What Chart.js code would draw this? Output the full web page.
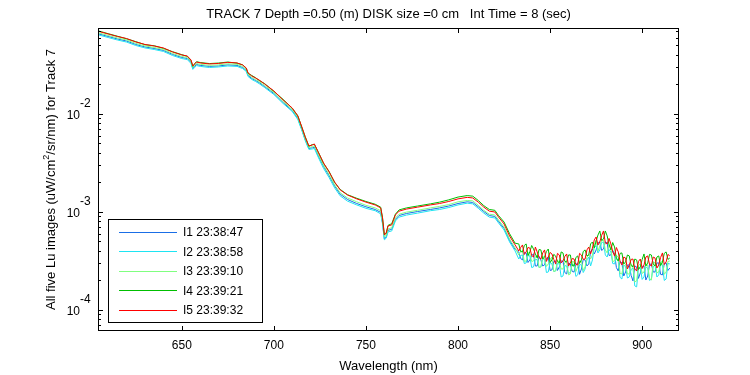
<!DOCTYPE html>
<html>
<head>
<meta charset="utf-8">
<script src="https://cdn.jsdelivr.net/npm/chart.js@4.4.0/dist/chart.umd.min.js"></script>
<style>
html, body { margin: 0; padding: 0; background: #fff; }
#wrap { width: 750px; height: 375px; }
</style>
</head>
<body>
<div id="wrap"><canvas id="luChart" width="750" height="375"></canvas></div>
<script>
// Wavelength grid (nm) shared by the five Lu images
const wavelengths = [
  605,610,615,620,625,630,635,640,645,650,
  653,655,656,657,658,660,665,670,675,680,
  683,685,686,688,690,692,695,700,705,710,
  713,715,717,719,721,722,724,727,730,733,
  736,740,745,750,755,758,759,760,761,762,
  764,766,768,772,778,785,790,795,800,805,
  808,811,814,817,820,822,825,828,831,
  833,834,835,836,837,838,839,840,841,842,
  843,844,845,846,847,848,849,850,851,852,
  853,854,855,856,857,858,859,860,861,862,
  863,864,865,866,867,868,869,870,871,872,
  873,874,875,876,877,878,879,880,881,882,
  883,884,885,886,887,888,889,890,891,892,
  893,894,895,896,897,898,899,900,901,902,
  903,904,905,906,907,908,909,910,911,912,
  913,914,915
];

// Lu values (uW/cm^2/sr/nm)
const i1 = [
  0.0655,0.0618,0.0583,0.0555,0.0512,0.0483,0.0466,0.0445,0.0405,0.0377,
  0.0368,0.0336,0.0291,0.0306,0.0320,0.0313,0.0306,0.0309,0.0317,0.0313,
  0.0298,0.0278,0.0247,0.0230,0.0220,0.0209,0.0190,0.0162,0.0131,0.0108,
  0.00900,0.00711,0.00549,0.00445,0.00452,0.00459,0.00379,0.00291,0.00234,0.00184,
  0.00152,0.00134,0.00122,0.00113,0.00106,0.000990,0.000782,0.000530,0.000555,0.000650,
  0.000665,0.000840,0.000920,0.000965,0.00101,0.00106,0.00110,0.00115,0.00122,0.00127,
  0.00125,0.00113,0.00101,0.000920,0.000900,0.000800,0.000680,0.000512,0.000415,
  3.91e-4,3.35e-4,3.24e-4,3.86e-4,3.82e-4,3.05e-4,3.24e-4,3.60e-4,3.73e-4,2.81e-4,
  2.81e-4,3.52e-4,3.24e-4,2.81e-4,2.88e-4,3.35e-4,3.47e-4,2.53e-4,2.56e-4,3.13e-4,
  3.16e-4,2.53e-4,2.75e-4,3.16e-4,3.16e-4,2.41e-4,2.33e-4,3.02e-4,2.95e-4,2.47e-4,
  2.44e-4,2.91e-4,3.02e-4,2.31e-4,2.62e-4,3.28e-4,3.24e-4,2.81e-4,2.95e-4,3.91e-4,
  4.19e-4,3.73e-4,4.10e-4,4.83e-4,4.94e-4,4.05e-4,4.19e-4,4.94e-4,4.83e-4,3.60e-4,
  3.64e-4,4.05e-4,3.73e-4,2.71e-4,2.50e-4,3.13e-4,3.02e-4,2.22e-4,2.44e-4,2.88e-4,
  2.88e-4,2.25e-4,1.98e-4,2.81e-4,2.75e-4,2.10e-4,2.39e-4,2.78e-4,2.81e-4,2.02e-4,
  2.22e-4,2.91e-4,2.95e-4,2.44e-4,2.44e-4,3.02e-4,3.02e-4,2.31e-4,2.28e-4,2.98e-4,
  3.02e-4,2.53e-4,2.68e-4
];
const i2 = [
  0.0640,0.0603,0.0569,0.0542,0.0500,0.0472,0.0455,0.0435,0.0395,0.0368,
  0.0359,0.0328,0.0285,0.0298,0.0312,0.0306,0.0298,0.0302,0.0309,0.0306,
  0.0291,0.0272,0.0241,0.0225,0.0215,0.0204,0.0186,0.0158,0.0128,0.0106,
  0.00879,0.00694,0.00536,0.00435,0.00440,0.00445,0.00365,0.00278,0.00224,0.00176,
  0.00146,0.00129,0.00118,0.00109,0.00103,0.000956,0.000755,0.000520,0.000540,0.000626,
  0.000640,0.000810,0.000886,0.000930,0.000973,0.00103,0.00106,0.00111,0.00118,0.00123,
  0.00121,0.00109,0.000973,0.000886,0.000869,0.000773,0.000655,0.000494,0.000400,
  3.31e-4,3.60e-4,3.64e-4,2.98e-4,3.02e-4,3.60e-4,3.56e-4,2.71e-4,2.75e-4,3.31e-4,
  3.24e-4,2.71e-4,2.75e-4,3.31e-4,3.31e-4,2.41e-4,2.44e-4,3.05e-4,2.95e-4,2.47e-4,
  2.50e-4,2.98e-4,2.95e-4,2.17e-4,2.22e-4,2.84e-4,2.81e-4,2.33e-4,2.44e-4,2.91e-4,
  2.88e-4,2.20e-4,2.28e-4,2.91e-4,2.88e-4,2.41e-4,2.62e-4,3.24e-4,3.47e-4,2.81e-4,
  3.24e-4,4.39e-4,4.50e-4,3.82e-4,4.10e-4,4.88e-4,4.94e-4,3.64e-4,3.47e-4,4.14e-4,
  3.91e-4,2.98e-4,2.95e-4,3.43e-4,3.16e-4,2.15e-4,2.07e-4,2.88e-4,2.75e-4,2.12e-4,
  2.17e-4,2.59e-4,2.68e-4,1.76e-4,1.72e-4,2.71e-4,2.68e-4,2.05e-4,2.17e-4,2.75e-4,
  2.68e-4,2.00e-4,2.07e-4,2.75e-4,2.88e-4,2.17e-4,2.28e-4,2.91e-4,2.88e-4,2.00e-4,
  2.07e-4,2.98e-4,2.95e-4
];
const i3 = [
  0.0671,0.0633,0.0597,0.0569,0.0525,0.0495,0.0477,0.0456,0.0414,0.0386,
  0.0377,0.0344,0.0299,0.0313,0.0327,0.0321,0.0313,0.0317,0.0325,0.0321,
  0.0305,0.0285,0.0253,0.0236,0.0225,0.0214,0.0195,0.0166,0.0134,0.0111,
  0.00922,0.00728,0.00562,0.00456,0.00464,0.00472,0.00390,0.00299,0.00241,0.00189,
  0.00157,0.00139,0.00127,0.00117,0.00110,0.00103,0.000810,0.000560,0.000575,0.000672,
  0.000690,0.000868,0.000950,0.000997,0.00104,0.00110,0.00114,0.00119,0.00127,0.00131,
  0.00130,0.00117,0.00104,0.000950,0.000932,0.000828,0.000703,0.000530,0.000430,
  3.64e-4,3.95e-4,4.00e-4,3.13e-4,3.16e-4,3.86e-4,3.73e-4,3.13e-4,3.16e-4,3.47e-4,
  3.64e-4,2.71e-4,2.75e-4,3.56e-4,3.31e-4,2.78e-4,2.95e-4,3.28e-4,3.47e-4,2.47e-4,
  2.50e-4,3.20e-4,3.09e-4,2.62e-4,2.62e-4,3.05e-4,3.09e-4,2.28e-4,2.33e-4,3.13e-4,
  3.09e-4,2.47e-4,2.75e-4,3.13e-4,3.16e-4,2.53e-4,2.75e-4,3.47e-4,3.64e-4,3.31e-4,
  3.64e-4,4.61e-4,5.18e-4,4.00e-4,4.50e-4,5.12e-4,5.18e-4,4.10e-4,3.82e-4,4.66e-4,
  4.29e-4,3.13e-4,3.16e-4,3.60e-4,3.47e-4,2.36e-4,2.33e-4,3.02e-4,2.95e-4,2.33e-4,
  2.33e-4,2.91e-4,2.81e-4,1.93e-4,1.98e-4,2.84e-4,2.95e-4,2.36e-4,2.44e-4,2.88e-4,
  2.88e-4,2.10e-4,2.02e-4,3.09e-4,3.02e-4,2.39e-4,2.44e-4,3.05e-4,3.16e-4,2.31e-4,
  2.44e-4,3.13e-4,3.16e-4
];
const i4 = [
  0.0702,0.0660,0.0622,0.0585,0.0548,0.0510,0.0497,0.0468,0.0432,0.0403,
  0.0388,0.0352,0.0306,0.0327,0.0342,0.0335,0.0327,0.0331,0.0339,0.0330,
  0.0318,0.0292,0.0260,0.0247,0.0235,0.0220,0.0204,0.0170,0.0141,0.0114,
  0.00960,0.00748,0.00590,0.00468,0.00488,0.00490,0.00415,0.00313,0.00259,0.00200,
  0.00170,0.00150,0.00138,0.00128,0.00120,0.00112,0.000880,0.000590,0.000605,0.000730,
  0.000760,0.000950,0.00105,0.00110,0.00115,0.00121,0.00126,0.00133,0.00142,0.00147,
  0.00145,0.00131,0.00116,0.00106,0.00104,0.000920,0.000790,0.000600,0.000480,
  4.72e-4,3.95e-4,3.91e-4,4.55e-4,4.72e-4,3.60e-4,3.91e-4,4.55e-4,4.19e-4,3.73e-4,
  3.39e-4,4.14e-4,4.10e-4,3.31e-4,3.47e-4,3.95e-4,4.19e-4,3.05e-4,3.24e-4,3.69e-4,
  3.56e-4,3.13e-4,3.02e-4,3.91e-4,3.82e-4,3.13e-4,3.09e-4,3.64e-4,3.64e-4,2.84e-4,
  2.81e-4,3.43e-4,3.56e-4,2.98e-4,3.24e-4,3.95e-4,4.10e-4,3.56e-4,3.64e-4,4.72e-4,
  4.94e-4,4.29e-4,5.06e-4,5.82e-4,6.40e-4,5.12e-4,5.30e-4,6.40e-4,5.69e-4,4.66e-4,
  4.10e-4,4.88e-4,4.39e-4,3.35e-4,3.16e-4,3.78e-4,3.82e-4,2.95e-4,3.09e-4,3.64e-4,
  3.56e-4,2.84e-4,2.75e-4,3.31e-4,3.24e-4,2.59e-4,2.75e-4,3.28e-4,3.73e-4,2.81e-4,
  3.02e-4,3.69e-4,3.64e-4,2.95e-4,2.81e-4,3.47e-4,3.56e-4,2.84e-4,3.09e-4,3.78e-4,
  3.91e-4,3.28e-4,3.39e-4
];
const i5 = [
  0.0695,0.0655,0.0618,0.0589,0.0543,0.0512,0.0494,0.0472,0.0429,0.0400,
  0.0390,0.0356,0.0309,0.0324,0.0339,0.0332,0.0324,0.0328,0.0336,0.0332,
  0.0316,0.0295,0.0262,0.0244,0.0233,0.0222,0.0202,0.0172,0.0139,0.0115,
  0.00954,0.00754,0.00582,0.00472,0.00483,0.00494,0.00410,0.00316,0.00256,0.00202,
  0.00168,0.00149,0.00136,0.00126,0.00118,0.00110,0.000869,0.000582,0.000610,0.000720,
  0.000737,0.000932,0.00102,0.00107,0.00112,0.00118,0.00122,0.00128,0.00136,0.00141,
  0.00139,0.00126,0.00112,0.00102,0.00100,0.000889,0.000754,0.000569,0.000461,
  4.00e-4,4.34e-4,4.61e-4,3.69e-4,3.91e-4,4.34e-4,4.29e-4,3.60e-4,3.47e-4,4.39e-4,
  3.91e-4,3.43e-4,3.31e-4,3.82e-4,4.10e-4,3.13e-4,3.47e-4,3.86e-4,3.73e-4,3.28e-4,
  2.95e-4,3.78e-4,3.64e-4,3.02e-4,3.16e-4,3.52e-4,3.73e-4,2.81e-4,3.02e-4,3.35e-4,
  3.31e-4,2.91e-4,2.88e-4,3.78e-4,3.64e-4,3.28e-4,3.31e-4,4.10e-4,4.39e-4,3.73e-4,
  4.29e-4,5.18e-4,5.56e-4,4.61e-4,4.94e-4,5.76e-4,6.40e-4,4.83e-4,4.72e-4,5.37e-4,
  4.72e-4,3.95e-4,3.56e-4,4.34e-4,3.91e-4,3.13e-4,2.88e-4,3.47e-4,3.39e-4,2.62e-4,
  2.88e-4,3.28e-4,3.31e-4,2.62e-4,2.50e-4,3.13e-4,3.31e-4,2.65e-4,2.88e-4,3.47e-4,
  3.56e-4,2.91e-4,2.81e-4,3.47e-4,3.39e-4,2.68e-4,2.88e-4,3.43e-4,3.82e-4,2.91e-4,
  3.09e-4,3.69e-4,3.56e-4
];

const seriesValues = [i1, i2, i3, i4, i5];
const seriesLabels = ["I1 23:38:47", "I2 23:38:58", "I3 23:39:10", "I4 23:39:21", "I5 23:39:32"];
const seriesColors = ["#1a6ee6", "#1ee4f2", "#80ff80", "#00bf00", "#ff0000"];

const xTicks = [650, 700, 750, 800, 850, 900];
const yDecades = [-4, -3, -2];

const chartTitle = "TRACK 7 Depth =0.50 (m) DISK size =0 cm   Int Time = 8 (sec)";
const xTitle = "Wavelength (nm)";
const FONT = "'Liberation Sans', Arial, Helvetica, sans-serif";

// text with a raised part, e.g. 10^-2
function drawSup(ctx, base, sup, x, y, baseSize, supSize, rise) {
    ctx.font = baseSize + "px " + FONT;
    ctx.fillText(base, x, y);
    const w = ctx.measureText(base).width;
    ctx.font = supSize + "px " + FONT;
    ctx.fillText(sup, x + w, y - rise);
}

// MATLAB style frame: box, inward ticks, labels, titles and legend
const matlabFrame = {
    id: "matlabFrame",
    afterDraw(chart) {
        const ctx = chart.ctx;
        const a = chart.chartArea;
        const xs = chart.scales.x;
        const ys = chart.scales.y;
        ctx.save();
        ctx.strokeStyle = "#000";
        ctx.fillStyle = "#000";
        ctx.lineWidth = 1;

        ctx.strokeRect(a.left + 0.5, a.top + 0.5, a.right - a.left - 1, a.bottom - a.top - 1);

        // x ticks, top and bottom
        ctx.beginPath();
        xTicks.forEach(v => {
            const px = Math.round(xs.getPixelForValue(v)) + 0.5;
            ctx.moveTo(px, a.bottom); ctx.lineTo(px, a.bottom - 5);
            ctx.moveTo(px, a.top); ctx.lineTo(px, a.top + 5);
        });
        // y ticks, major + minor, left and right
        for (let p = -5; p <= -1; p++) {
            for (let m = 1; m <= 9; m++) {
                const v = m * Math.pow(10, p);
                if (v < ys.min || v > ys.max) continue;
                const py = Math.round(ys.getPixelForValue(v)) + 0.5;
                const len = m === 1 ? 5 : 3;
                ctx.moveTo(a.left, py); ctx.lineTo(a.left + len, py);
                ctx.moveTo(a.right, py); ctx.lineTo(a.right - len, py);
            }
        }
        ctx.stroke();

        // x tick labels
        ctx.font = "12px " + FONT;
        ctx.textAlign = "center";
        ctx.textBaseline = "alphabetic";
        xTicks.forEach(v => ctx.fillText(String(v), xs.getPixelForValue(v), a.bottom + 18));

        // y tick labels 10^p
        ctx.textAlign = "left";
        yDecades.forEach(p => {
            const py = ys.getPixelForValue(Math.pow(10, p));
            ctx.font = "12px " + FONT;
            const w = ctx.measureText("10").width;
            drawSup(ctx, "10", String(p), 80 - w, py + 5, 12, 12, 12);
        });

        // title
        ctx.textAlign = "center";
        ctx.font = "13px " + FONT;
        ctx.fillText(chartTitle, (a.left + a.right) / 2, 18);

        // x title
        ctx.fillText(xTitle, (a.left + a.right) / 2, 370);

        // y title with cm^2
        ctx.save();
        ctx.translate(55, (a.top + a.bottom) / 2);
        ctx.rotate(-Math.PI / 2);
        ctx.textAlign = "left";
        const p1 = "All five Lu images (uW/cm", p2 = "2", p3 = "/sr/nm) for Track 7";
        ctx.font = "13px " + FONT;
        const w1 = ctx.measureText(p1).width, w3 = ctx.measureText(p3).width;
        ctx.font = "9px " + FONT;
        const w2 = ctx.measureText(p2).width;
        const x0 = -(w1 + w2 + w3) / 2;
        ctx.font = "13px " + FONT;
        ctx.fillText(p1, x0, 0);
        ctx.font = "9px " + FONT;
        ctx.fillText(p2, x0 + w1, -6);
        ctx.font = "13px " + FONT;
        ctx.fillText(p3, x0 + w1 + w2, 0);
        ctx.restore();

        // legend box
        ctx.fillStyle = "#fff";
        ctx.fillRect(108, 219, 155, 104);
        ctx.strokeStyle = "#000";
        ctx.strokeRect(108.5, 219.5, 154, 103);
        ctx.font = "12px " + FONT;
        ctx.textAlign = "left";
        seriesLabels.forEach((lab, k) => {
            const ly = 231.5 + k * 19.5;
            ctx.strokeStyle = seriesColors[k];
            ctx.beginPath();
            ctx.moveTo(119, Math.round(ly) + 0.5);
            ctx.lineTo(177, Math.round(ly) + 0.5);
            ctx.stroke();
            ctx.fillStyle = "#000";
            ctx.fillText(lab, 183, ly + 4.5);
        });
        ctx.restore();
    }
};

const ctx = document.getElementById("luChart").getContext("2d");
const luChart = new Chart(ctx, {
    type: "line",
    data: {
        datasets: seriesValues.map((vals, k) => ({
            label: seriesLabels[k],
            data: wavelengths.map((w, j) => ({ x: w, y: vals[j] })),
            borderColor: seriesColors[k],
            borderWidth: 1,
            pointRadius: 0,
            fill: false,
            tension: 0,
            order: 4 - k // I5 drawn last, on top
        }))
    },
    options: {
        responsive: false,
        animation: false,
        devicePixelRatio: 1,
        layout: { padding: { left: 0, top: 28, right: 71, bottom: 0 } },
        scales: {
            x: {
                type: "linear",
                min: 604.5,
                max: 920,
                grid: { display: false },
                border: { display: false },
                ticks: { display: false },
                afterFit: s => { s.height = 44; }
            },
            y: {
                type: "logarithmic",
                min: 6.1e-5,
                max: 0.0754,
                grid: { display: false },
                border: { display: false },
                ticks: { display: false },
                afterFit: s => { s.width = 98; }
            }
        },
        plugins: {
            legend: { display: false },
            title: { display: false },
            tooltip: { enabled: false }
        }
    },
    plugins: [matlabFrame]
});
</script>
</body>
</html>
